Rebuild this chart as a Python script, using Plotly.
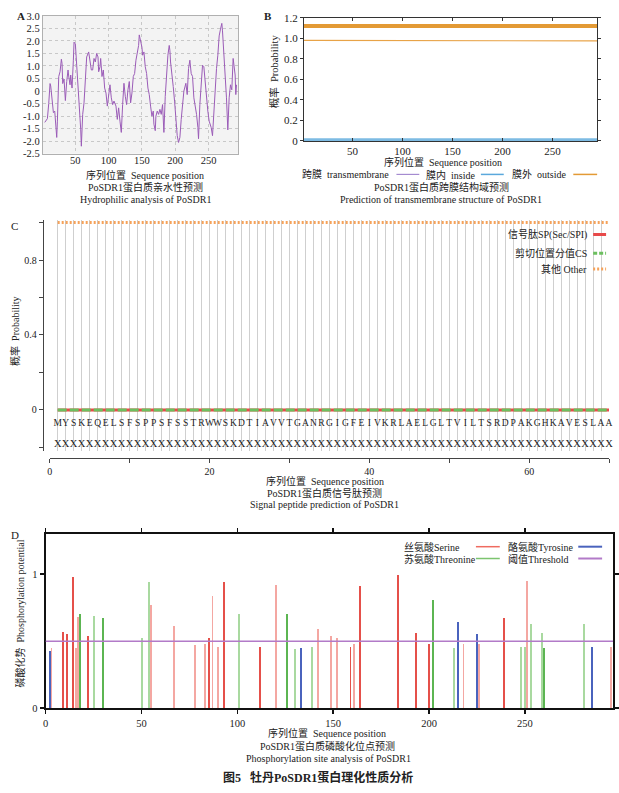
import plotly.graph_objects as go

W, H = 619, 793
SERIF = "Liberation Serif, Noto Sans CJK SC, serif"

# ---------------- Panel A: hydropathy profile ----------------
HYD_POS = [4, 6, 8, 10, 12, 13, 15, 17, 19, 21,
           22, 23, 25, 27, 29, 30, 31, 33, 35, 37,
           39, 40, 42, 43, 45, 47, 48, 50, 51, 53,
           56, 58, 59, 61, 63, 65, 67, 70, 72, 74,
           76, 78, 80, 82, 84, 85, 87, 88, 90, 92,
           94, 96, 98, 100, 102, 104, 106, 108, 111, 113,
           115, 117, 119, 121, 123, 125, 127, 129, 131, 133,
           135, 137, 139, 141, 143, 145, 146, 148, 150, 151,
           153, 155, 157, 159, 161, 163, 165, 167, 168, 170,
           171, 173, 175, 177, 179, 181, 183, 185, 187, 189,
           191, 192, 193, 195, 197, 199, 200, 202, 203, 205,
           207, 209, 211, 213, 216, 218, 220, 222, 224, 226,
           228, 230, 232, 234, 235, 237, 239, 241, 243, 245,
           247, 249, 251, 254, 256, 258, 260, 262, 264, 266,
           268, 270, 271, 273, 275, 277, 279, 281, 283, 285,
           287, 289, 290, 291, 292]
HYD_VAL = [-1.25, -1.15, -1.1, -0.5, 0.3, 0.2, -0.4, -0.86, -0.8, -1.8,
           -1.85, -1.2, 0.58, 0.77, 1.27, 1.1, 0.3, 0.48, -0.38, 0.38,
           0.84, 0.6, 0.25, 0.64, 0.12, 1.23, 1.95, 1.88, 1.5, 0.58,
           -0.54, -1.52, -2.2, -0.93, -0.47, 0.58, 1.36, 1.56, 1.23, 0.84,
           0.84, 1.3, 1.16, 1.5, 1.36, 0.77, 0.97, 1.3, 0.58, 0.84,
           0.12, -0.08, -0.6, -0.21, 0.25, -0.27, -0.54, -0.4, -0.6, -1.13,
           -0.67, -1.2, -1.65, -0.54, 0.31, -0.21, -0.54, 0.05, 0.38, -0.47,
           -0.08, 0.58, 0.7, 1.23, 1.49, 1.82, 2.24, 1.95, 1.75, 1.43,
           1.56, 0.97, 0.7, 0.12, -0.14, -0.6, -1.0, -0.8, -1.32, -1.58,
           -1.0, -0.8, -0.93, -0.73, -0.93, -0.54, -1.65, -0.21, 0.64, 1.43,
           1.82, 1.62, 1.16, 0.77, 0.18, -0.4, -0.8, -1.39, -1.78, -2.05,
           -1.85, -1.13, -0.6, 0.0, 0.31, -0.14, 0.9, 1.23, 0.7, 0.58,
           -0.27, -0.54, -0.93, -1.45, -1.9, -0.54, 0.38, 1.03, 0.97, 0.31,
           -0.4, -0.8, -1.2, -1.45, -1.78, -0.93, 0.25, 0.9, 1.43, 2.2,
           2.47, 2.7, 2.4, 1.56, 0.64, -0.27, -1.55, -0.27, 0.25, 0.05,
           1.3, 0.7, 0.64, -0.14, 0.25]
A_YTICKS = [3.0, 2.5, 2.0, 1.5, 1.0, 0.5, 0, -0.5, -1.0, -1.5, -2.0, -2.5]
A_YTEXT = ["3.0", "2.5", "2.0", "1.5", "1.0", "0.5", "0", "-0.5", "-1.0", "-1.5", "-2.0", "-2.5"]
SEQ_XTICKS = [50, 100, 150, 200, 250]

# ---------------- Panel B: TMHMM ----------------
B_POS = [1, 50, 100, 140, 145, 200, 250, 296]
B_OUTSIDE = [0.98, 0.98, 0.98, 0.98, 0.975, 0.975, 0.975, 0.975]
B_INSIDE = [0.012, 0.012, 0.012, 0.012, 0.012, 0.012, 0.012, 0.012]
B_TM = [0, 0, 0, 0, 0, 0, 0, 0]
B_TOPO_POS = [1, 296]
B_TOPO_LEVEL = [1.12, 1.12]
B_YTICKS = [0, 0.2, 0.4, 0.6, 0.8, 1.0, 1.2]
B_YTEXT = ["0", "0.2", "0.4", "0.6", "0.8", "1.0", "1.2"]

# ---------------- Panel C: SignalP ----------------
SEQ = "MYSKEQELSFSPPSFSSTRWWSKDTIAVVTGANRGIGFEIVKRLAELGLTVILTSRDPAKGHKAVESLAA"
XROW = "XXXXXXXXXXXXXXXXXXXXXXXXXXXXXXXXXXXXXXXXXXXXXXXXXXXXXXXXXXXXXXXXXXXXXX"
C_POS = list(range(1, len(SEQ) + 1))
SP_PROB = [0.0, 0.0, 0.0, 0.0, 0.0, 0.0, 0.0, 0.0, 0.0, 0.0,
           0.0, 0.0, 0.0, 0.0, 0.0, 0.0, 0.0, 0.0, 0.0, 0.0,
           0.0, 0.0, 0.0, 0.0, 0.0, 0.0, 0.0, 0.0, 0.0, 0.0,
           0.0, 0.0, 0.0, 0.0, 0.0, 0.0, 0.0, 0.0, 0.0, 0.0,
           0.0, 0.0, 0.0, 0.0, 0.0, 0.0, 0.0, 0.0, 0.0, 0.0,
           0.0, 0.0, 0.0, 0.0, 0.0, 0.0, 0.0, 0.0, 0.0, 0.0,
           0.0, 0.0, 0.0, 0.0, 0.0, 0.0, 0.0, 0.0, 0.0, 0.0]
CS_PROB = [0.0, 0.0, 0.0, 0.0, 0.0, 0.0, 0.0, 0.0, 0.0, 0.0,
           0.0, 0.0, 0.0, 0.0, 0.0, 0.0, 0.0, 0.0, 0.0, 0.0,
           0.0, 0.0, 0.0, 0.0, 0.0, 0.0, 0.0, 0.0, 0.0, 0.0,
           0.0, 0.0, 0.0, 0.0, 0.0, 0.0, 0.0, 0.0, 0.0, 0.0,
           0.0, 0.0, 0.0, 0.0, 0.0, 0.0, 0.0, 0.0, 0.0, 0.0,
           0.0, 0.0, 0.0, 0.0, 0.0, 0.0, 0.0, 0.0, 0.0, 0.0,
           0.0, 0.0, 0.0, 0.0, 0.0, 0.0, 0.0, 0.0, 0.0, 0.0]
OTHER_PROB = [1.0, 1.0, 1.0, 1.0, 1.0, 1.0, 1.0, 1.0, 1.0, 1.0,
              1.0, 1.0, 1.0, 1.0, 1.0, 1.0, 1.0, 1.0, 1.0, 1.0,
              1.0, 1.0, 1.0, 1.0, 1.0, 1.0, 1.0, 1.0, 1.0, 1.0,
              1.0, 1.0, 1.0, 1.0, 1.0, 1.0, 1.0, 1.0, 1.0, 1.0,
              1.0, 1.0, 1.0, 1.0, 1.0, 1.0, 1.0, 1.0, 1.0, 1.0,
              1.0, 1.0, 1.0, 1.0, 1.0, 1.0, 1.0, 1.0, 1.0, 1.0,
              1.0, 1.0, 1.0, 1.0, 1.0, 1.0, 1.0, 1.0, 1.0, 1.0]
C_SEQ_ROW_Y = -0.075
C_X_ROW_Y = -0.185
C_YTICKS = [-0.2, 0, 0.2, 0.4, 0.6, 0.8, 1.0]
C_YTEXT = ["", "0", "", "0.4", "", "0.8", ""]
C_XTICKS = [0, 10, 20, 30, 40, 50, 60, 70]
C_XTEXT = ["0", "", "20", "", "40", "", "60", ""]

# ---------------- Panel D: NetPhos ----------------
SER_POS = [9, 11, 14, 22, 85, 93, 112, 159, 164, 184, 193, 200, 239]
SER_VAL = [0.57, 0.55, 0.98, 0.54, 0.52, 0.94, 0.46, 0.46, 0.91, 0.99, 0.56, 0.48, 0.67]
SER_W_POS = [3, 16, 17, 55, 67, 78, 83, 87, 90, 120, 142, 149, 152, 161, 218, 226, 251, 295]
SER_W_VAL = [0.45, 0.45, 0.68, 0.77, 0.61, 0.47, 0.48, 0.84, 0.46, 0.92, 0.59, 0.54, 0.52, 0.48, 0.48, 0.48, 0.95, 0.46]
THR_POS = [18, 30, 126, 202, 260]
THR_VAL = [0.70, 0.67, 0.70, 0.81, 0.45]
THR_W_POS = [25, 50, 54, 101, 130, 139, 213, 248, 250, 253, 259, 281]
THR_W_VAL = [0.69, 0.52, 0.94, 0.70, 0.44, 0.46, 0.45, 0.46, 0.46, 0.63, 0.56, 0.63]
TYR_POS = [2, 133, 215, 225, 285]
TYR_VAL = [0.43, 0.45, 0.64, 0.55, 0.46]
THRESHOLD = 0.5
D_XTICKS = [0, 50, 100, 150, 200, 250]

# ---------------- helpers ----------------
def px(x):
    return x / W


def py(y):
    return 1 - y / H


def ann(text, x, y, size=10, xanchor="center", yanchor="middle", bold=False,
        angle=0, color="#222222"):
    if bold:
        text = "<b>" + text + "</b>"
    return dict(text=text, x=px(x), y=py(y), xref="paper", yref="paper",
                showarrow=False, xanchor=xanchor, yanchor=yanchor,
                textangle=angle, font=dict(size=size, family=SERIF, color=color))


def seg(x0, x1, y, color, width=2, dash="solid"):
    return dict(type="line", xref="paper", yref="paper", x0=px(x0), x1=px(x1),
                y0=py(y), y1=py(y), line=dict(color=color, width=width, dash=dash))


SP = "\u00a0"
fig = go.Figure()

# A
fig.add_trace(go.Scatter(x=HYD_POS, y=HYD_VAL, mode="lines", xaxis="x", yaxis="y",
                         line=dict(color="#9b5cb8", width=1), showlegend=False))

# B
fig.add_trace(go.Scatter(x=B_TOPO_POS, y=B_TOPO_LEVEL, mode="lines", xaxis="x2", yaxis="y2",
                         line=dict(color="#e39a35", width=4), showlegend=False))
fig.add_trace(go.Scatter(x=B_POS, y=B_OUTSIDE, mode="lines", xaxis="x2", yaxis="y2",
                         line=dict(color="#e8a347", width=1.2), showlegend=False))
fig.add_trace(go.Scatter(x=B_POS, y=B_TM, mode="lines", xaxis="x2", yaxis="y2",
                         line=dict(color="#a58bd0", width=1), showlegend=False))
fig.add_trace(go.Scatter(x=B_POS, y=B_INSIDE, mode="lines", xaxis="x2", yaxis="y2",
                         line=dict(color="#7dbbe3", width=3), showlegend=False))

# C
fig.add_trace(go.Scatter(x=C_POS, y=OTHER_PROB, mode="lines", xaxis="x3", yaxis="y3",
                         line=dict(color="#f5a25a", width=3, dash="2px,2px"), showlegend=False))
fig.add_trace(go.Scatter(x=C_POS, y=SP_PROB, mode="lines", xaxis="x3", yaxis="y3",
                         line=dict(color="#e84a4a", width=3), showlegend=False))
fig.add_trace(go.Scatter(x=C_POS, y=CS_PROB, mode="lines", xaxis="x3", yaxis="y3",
                         line=dict(color="#6cbf5f", width=3, dash="9px,3px"), showlegend=False))
fig.add_trace(go.Scatter(x=C_POS, y=[C_SEQ_ROW_Y] * len(C_POS), mode="text", text=list(SEQ),
                         xaxis="x4", yaxis="y3", cliponaxis=False,
                         textfont=dict(size=9.5, family=SERIF, color="#222"), showlegend=False))
fig.add_trace(go.Scatter(x=C_POS, y=[C_X_ROW_Y] * len(C_POS), mode="text", text=list(XROW),
                         xaxis="x4", yaxis="y3", cliponaxis=False,
                         textfont=dict(size=10.5, family=SERIF, color="#222"), showlegend=False))

# D
for pos, val, col in [(SER_W_POS, SER_W_VAL, "#f4a7a2"), (THR_W_POS, THR_W_VAL, "#a9d9a0"),
                      (SER_POS, SER_VAL, "#e5504a"), (THR_POS, THR_VAL, "#5cb552"),
                      (TYR_POS, TYR_VAL, "#4a63bd")]:
    fig.add_trace(go.Bar(x=pos, y=val, width=1.0, marker=dict(color=col, line=dict(width=0)),
                         xaxis="x5", yaxis="y5", showlegend=False))

tickf = dict(family=SERIF, size=10.5, color="#222")

annotations = [
    ann("A", 18, 10, size=11, bold=True),
    ann("B", 267, 10, size=11, bold=True),
    ann("C", 12, 223, size=11),
    ann("D", 12, 537, size=11),
    # A captions
    ann("序列位置" + SP * 2 + "Sequence position", 143, 172),
    ann("PoSDR1蛋白质亲水性预测", 143, 184),
    ann("Hydrophilic analysis of PoSDR1", 143, 196),
    # B
    ann("概率" + SP * 2 + "Probability", 273, 66, size=10.5, angle=-90),
    ann("序列位置" + SP * 2 + "Sequence position", 443, 158.5),
    ann("跨膜" + SP * 2 + "transmembrane", 391, 171.5, xanchor="right"),
    ann("膜内" + SP * 2 + "inside", 477, 171.5, xanchor="right"),
    ann("膜外" + SP * 2 + "outside", 569, 171.5, xanchor="right"),
    ann("PoSDR1蛋白质跨膜结构域预测", 441, 184),
    ann("Prediction of transmembrane structure of PoSDR1", 441, 196),
    # C
    ann("概率" + SP * 2 + "Probability", 12, 330, size=10, angle=-90),
    ann("信号肽SP(Sec/SPI)", 590, 232, xanchor="right"),
    ann("剪切位置分值CS", 590, 251, xanchor="right"),
    ann("其他" + SP + "Other", 590, 267, xanchor="right"),
    ann("序列位置" + SP * 2 + "Sequence position", 324, 482),
    ann("PoSDR1蛋白质信号肽预测", 324, 494.5),
    ann("Signal peptide prediction of PoSDR1", 324, 506.5),
    # D
    ann("磷酸化势" + SP * 2 + "Phosphorylation potential", 17, 617, size=10, angle=-90),
    ann("丝氨酸Serine", 402, 549, xanchor="left"),
    ann("酪氨酸Tyrosine", 506, 549, xanchor="left"),
    ann("苏氨酸Threonine", 402, 561, xanchor="left"),
    ann("阈值Threshold", 506, 561, xanchor="left"),
    ann("序列位置" + SP * 2 + "Sequence position", 326, 738),
    ann("PoSDR1蛋白质磷酸化位点预测", 327, 751),
    ann("Phosphorylation site analysis of PoSDR1", 328, 764),
    ann("图5" + SP * 3 + "牡丹PoSDR1蛋白理化性质分析", 317, 783, size=12, bold=True),
]

shapes = [
    dict(type="rect", xref="x domain", yref="y domain", x0=0, x1=1, y0=0, y1=1,
         fillcolor="#f3f3f3", line=dict(width=0), layer="below"),
    # B legend
    seg(396, 419, 171, "#a58bd0", 1.2),
    seg(481, 504, 171, "#5aa8dc", 1.5),
    seg(574, 598, 171, "#e39a35", 1.5),
    # C legend
    seg(594, 607, 232, "#e84a4a", 3),
    seg(594, 607, 251, "#6cbf5f", 3, "4px,2px"),
    seg(594, 607, 267, "#f5a25a", 3, "2px,2px"),
    # D legend
    seg(476, 500, 549, "#ef6b60", 1.5),
    seg(579, 603, 549, "#4a63bd", 2),
    seg(476, 500, 561, "#7cc46f", 1.5),
    seg(579, 603, 561, "#b27ac8", 2),
    # D threshold
    dict(type="line", xref="x5 domain", yref="y5", x0=0, x1=1, y0=THRESHOLD, y1=THRESHOLD,
         line=dict(color="#b27ac8", width=1.5)),
]

fig.update_layout(
    width=W, height=H, autosize=False,
    margin=dict(l=0, r=0, t=0, b=0),
    paper_bgcolor="white", plot_bgcolor="white",
    barmode="overlay", bargap=0,
    font=dict(family=SERIF, size=10, color="#222"),
    annotations=annotations, shapes=shapes,
    # A
    xaxis=dict(domain=[px(40), px(237)], range=[1, 295], anchor="y",
               tickvals=SEQ_XTICKS, showgrid=True, gridcolor="#c8c8c8", griddash="dot",
               showline=True, linecolor="#b0b0b0", mirror=True, ticks="", zeroline=False,
               ticklabelstandoff=-3, tickfont=tickf),
    yaxis=dict(domain=[py(150), py(10)], range=[-2.5, 3.0], anchor="x",
               tickvals=A_YTICKS, ticktext=A_YTEXT, showgrid=True, gridcolor="#c8c8c8",
               griddash="dot", showline=True, linecolor="#b0b0b0", mirror=True, ticks="",
               zeroline=False, tickfont=tickf),
    # B
    xaxis2=dict(domain=[px(303), px(598)], range=[1.6, 294.6], anchor="y2",
                tickvals=SEQ_XTICKS, showgrid=False, showline=True, linecolor="#333",
                mirror="ticks", ticks="inside", ticklen=3, tickcolor="#333", zeroline=False,
                tickfont=dict(family=SERIF, size=11, color="#222")),
    yaxis2=dict(domain=[py(137), py(12)], range=[0, 1.2], anchor="x2",
                tickvals=B_YTICKS, ticktext=B_YTEXT, showgrid=False, showline=True,
                linecolor="#333", mirror="ticks", ticks="outside", ticklen=3, tickcolor="#333",
                zeroline=False, tickfont=dict(family=SERIF, size=11, color="#222")),
    # C
    xaxis3=dict(domain=[px(47), px(610)], range=[0, 70], anchor="free", position=py(459),
                tickvals=C_XTICKS, ticktext=C_XTEXT, showgrid=False, showline=True,
                linecolor="#444", ticks="outside", ticklen=4, tickcolor="#444", zeroline=False,
                tickfont=dict(family=SERIF, size=10, color="#222")),
    xaxis4=dict(overlaying="x3", range=[0, 70], anchor="y3", tickvals=C_POS,
                showticklabels=False, showgrid=True, gridcolor="#cfcfcf", gridwidth=1,
                showline=False, ticks="", zeroline=False),
    yaxis3=dict(domain=[py(452), py(217)], range=[-0.22, 1.015], anchor="free",
                position=px(40), tickvals=C_YTICKS, ticktext=C_YTEXT, showgrid=False,
                showline=True, linecolor="#444", ticks="outside", ticklen=4, tickcolor="#444",
                zeroline=False, tickfont=dict(family=SERIF, size=10, color="#222")),
    # D
    xaxis5=dict(domain=[px(43), px(614)], range=[0, 296], anchor="y5",
                tickvals=D_XTICKS, showgrid=False, showline=True, linecolor="#111", linewidth=2,
                mirror="ticks", ticks="outside", ticklen=4, tickwidth=1.5, tickcolor="#111",
                zeroline=False, tickfont=dict(family=SERIF, size=10.5, color="#222")),
    yaxis5=dict(domain=[py(713), py(536)], range=[0, 1.3], anchor="x5",
                tickvals=[0, 1], ticktext=["0", "1"], showgrid=False, showline=True,
                linecolor="#111", linewidth=2, mirror="ticks", ticks="outside", ticklen=4,
                tickwidth=1.5, tickcolor="#111", zeroline=False,
                tickfont=dict(family=SERIF, size=10.5, color="#222")),
)

fig.write_html("out.html",
               config={"displayModeBar": False, "staticPlot": True},
               post_script="document.body.style.margin='0px';"
                           "document.body.style.overflow='hidden';")
